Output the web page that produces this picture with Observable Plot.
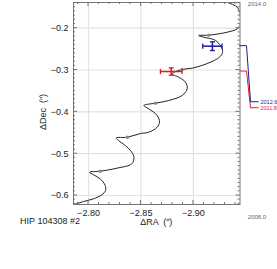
<!DOCTYPE html>
<html><head><meta charset="utf-8">
<script src="https://cdn.jsdelivr.net/npm/d3@7"></script>
<script src="https://cdn.jsdelivr.net/npm/@observablehq/plot@0.6"></script>
<style>body{margin:0;background:#fff}#chart{position:relative;width:277px;height:269px}</style>
</head><body><div id="chart"></div>
<script>
// predicted relative track (ΔRA, ΔDec in arcsec)
const trackRA = [-2.7838,-2.7952,-2.8048,-2.8127,-2.8162,-2.8159,-2.8111,-2.8048,-2.8010,-2.8111,-2.8270,-2.8412,-2.8433,-2.8412,-2.8350,-2.8286,-2.8264,-2.8371,-2.8495,-2.8574,-2.8654,-2.8676,-2.8654,-2.8574,-2.8527,-2.8638,-2.8765,-2.8892,-2.8940,-2.8924,-2.8860,-2.8797,-2.8892,-2.8987,-2.9098,-2.9226,-2.9273,-2.9273,-2.9210,-2.9098,-2.9050,-2.9146,-2.9321,-2.9417,-2.9448,-2.9448,-2.9417,-2.9321,-2.9276];
const trackDec = [-0.6239,-0.6144,-0.6079,-0.5983,-0.5881,-0.5761,-0.5601,-0.5505,-0.5443,-0.5419,-0.5347,-0.5242,-0.5091,-0.4965,-0.4805,-0.4685,-0.4625,-0.4606,-0.4518,-0.4487,-0.4367,-0.4247,-0.4087,-0.3927,-0.3848,-0.3793,-0.3729,-0.3609,-0.3449,-0.3291,-0.3172,-0.3090,-0.2987,-0.2956,-0.2875,-0.2732,-0.2612,-0.2493,-0.2294,-0.2215,-0.2175,-0.2167,-0.2096,-0.2014,-0.1895,-0.1737,-0.1498,-0.1378,-0.1290];
// yearly markers on track
const yearRA  = [-2.8111,-2.8371,-2.8638,-2.8892,-2.9146];
const yearDec = [-0.5419,-0.4606,-0.3793,-0.2987,-0.2167];
// observations
const obsEpoch  = ["2011.8","2012.6"];
const obsRA     = [-2.8788,-2.9180];
const obsDec    = [-0.3036,-0.2430];
const obsErrRA  = [0.0103,0.0092];
const obsErrDec = [0.0088,0.0105];
const obsColor  = ["#e8191e","#1a1a96"];
const obsLabelDec = [-0.3914,-0.3770];
// axes
const raTicks  = [-2.80,-2.85,-2.90];
const decTicks = [-0.2,-0.3,-0.4,-0.5,-0.6];
const epochEnds = ["2014.0","2008.0"];
const xDomain = [-2.7857,-2.9443];
const yDomain = [-0.6215,-0.1386];

const track = trackRA.map((ra,i)=>({ra, dec: trackDec[i]}));
const years = yearRA.map((ra,i)=>({ra, dec: yearDec[i]}));
const obs = obsEpoch.map((e,i)=>({epoch:e, ra:obsRA[i], dec:obsDec[i], era:obsErrRA[i], edec:obsErrDec[i], color:obsColor[i], ldec:obsLabelDec[i]}));
const capX = 0.0024, capY = 0.0062;
const font = "'Liberation Sans', Arial, sans-serif";

const plot = Plot.plot({
  width: 277, height: 269,
  marginLeft: 73, marginRight: 37.5, marginTop: 2, marginBottom: 65,
  x: {domain: xDomain, axis: null},
  y: {domain: yDomain, axis: null},
  color: {type: "identity"},
  style: {fontFamily: font, background: "white", overflow: "visible"},
  marks: [
    Plot.ruleX(raTicks, {stroke: "#e2e2e2", strokeWidth: 1.2}),
    Plot.ruleY(decTicks, {stroke: "#e2e2e2", strokeWidth: 1.2}),
    Plot.line(track, {x: "ra", y: "dec", curve: "catmull-rom", stroke: "#222", strokeWidth: 1, clip: true}),
    Plot.dot(years, {x: "ra", y: "dec", r: 1.7, fill: "#888", stroke: null}),
    Plot.link(obs, {x1: d=>d.ra-d.era, x2: d=>d.ra+d.era, y1: "dec", y2: "dec", stroke: "color", strokeWidth: 1.5}),
    Plot.link(obs, {x1: "ra", x2: "ra", y1: d=>d.dec-d.edec, y2: d=>d.dec+d.edec, stroke: "color", strokeWidth: 1.5}),
    Plot.link(obs, {x1: d=>d.ra-d.era, x2: d=>d.ra-d.era, y1: d=>d.dec-capY, y2: d=>d.dec+capY, stroke: "color", strokeWidth: 1.3}),
    Plot.link(obs, {x1: d=>d.ra+d.era, x2: d=>d.ra+d.era, y1: d=>d.dec-capY, y2: d=>d.dec+capY, stroke: "color", strokeWidth: 1.3}),
    Plot.link(obs, {x1: d=>d.ra-capX, x2: d=>d.ra+capX, y1: d=>d.dec-d.edec, y2: d=>d.dec-d.edec, stroke: "color", strokeWidth: 1.3}),
    Plot.link(obs, {x1: d=>d.ra-capX, x2: d=>d.ra+capX, y1: d=>d.dec+d.edec, y2: d=>d.dec+d.edec, stroke: "color", strokeWidth: 1.3}),
    Plot.frame({stroke: "#777"}),
    Plot.text(decTicks, {x: xDomain[0], y: d=>d, text: d=>d3.format(".1f")(d), textAnchor: "end", dx: -5, fontSize: 9, fill: "#222"}),
    Plot.text(raTicks, {x: d=>d, y: yDomain[0], text: d=>d3.format(".2f")(d), dy: 9, fontSize: 9, fill: "#222"}),
    Plot.text(obs, {x: xDomain[1], y: "ldec", text: "epoch", textAnchor: "start", dx: 20.5, fontSize: 5.5, fill: "color"})
  ]
});
document.getElementById("chart").appendChild(plot);

// inward minor/major ticks on all four sides, connectors and extra labels
const sx = plot.scale("x"), sy = plot.scale("y");
const [xl, xr] = sx.range, [yb, yt] = sy.range;
const svg = d3.select(plot);
const g = svg.append("g").attr("stroke", "#666").attr("stroke-width", 0.9);
d3.range(-278, -295, -1).map(v=>v/100).forEach(v => {
  const x = sx.apply(v); if (x < xl || x > xr) return;
  const L = Math.abs(Math.round(v*100) % 5) === 0 ? 4 : 2;
  g.append("line").attr("x1", x).attr("x2", x).attr("y1", yb).attr("y2", yb-L);
  g.append("line").attr("x1", x).attr("x2", x).attr("y1", yt).attr("y2", yt+L);
});
d3.range(-62, -13, 1).map(v=>v/100).forEach(v => {
  const y = sy.apply(v); if (y > yb || y < yt) return;
  const L = Math.abs(Math.round(v*100) % 10) === 0 ? 4 : 2;
  g.append("line").attr("y1", y).attr("y2", y).attr("x1", xl).attr("x2", xl+L);
  g.append("line").attr("y1", y).attr("y2", y).attr("x1", xr).attr("x2", xr-L);
});
obs.forEach(d => {
  const y0 = sy.apply(d.dec), y1 = sy.apply(d.ldec);
  svg.append("path").attr("fill", "none").attr("stroke", d.color).attr("stroke-width", 1)
    .attr("d", `M${xr},${y0}H${xr+7}L${xr+11},${y1}H${xr+19}`);
});
svg.append("text").attr("x", xr+17.5).attr("y", yt+3.5).attr("font-size", 6).attr("fill", "#666").attr("font-family", font).text(epochEnds[0]);
svg.append("text").attr("x", xr+17.5).attr("y", yb+15).attr("font-size", 6).attr("fill", "#666").attr("font-family", font).text(epochEnds[1]);
svg.append("text").attr("x", (xl+xr)/2 + 0).attr("y", yb+21).attr("text-anchor", "middle").attr("font-size", 9).attr("fill", "#222").attr("font-family", font).text("ΔRA  (″)");
svg.append("text").attr("x", 50).attr("y", yb+20).attr("font-size", 9).attr("fill", "#222").attr("font-family", font).text("HIP 104308 #2");
svg.append("text").attr("transform", `translate(46,${(yt+yb)/2 + 9}) rotate(-90)`).attr("text-anchor", "middle").attr("font-size", 9).attr("fill", "#222").attr("font-family", font).text("ΔDec  (″)");
</script>
</body></html>
